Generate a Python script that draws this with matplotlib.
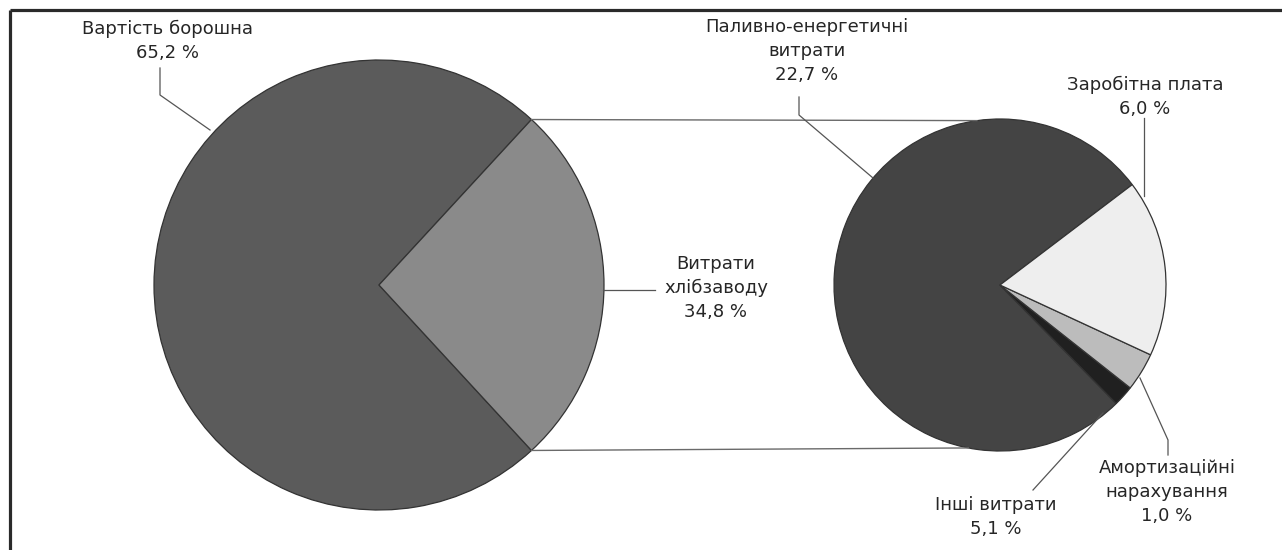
import numpy as np
import matplotlib.pyplot as plt

W, H = 1282, 550

# дані (частки так, як їх намальовано на діаграмі)
big_labels = ['Вартість борошна\n65,2 %', 'Витрати\nхлібзаводу\n34,8 %']
big_values = [73.7, 26.3]
big_colors = ['#5b5b5b', '#8a8a8a']

small_labels = ['Паливно-енергетичні\nвитрати\n22,7 %', 'Інші витрати\n5,1 %',
                'Амортизаційні\nнарахування\n1,0 %', 'Заробітна плата\n6,0 %']
small_values = [26.8, 0.7, 1.3, 6.0]
small_colors = ['#444444', '#202020', '#bcbcbc', '#eeeeee']


def Y(y):
    # координата y з картинки (зверху вниз) -> вісь (знизу вгору)
    return H - y


fig = plt.figure(figsize=(W / 100, H / 100), dpi=100)
ax = fig.add_axes([0, 0, 1, 1])

# велика діаграма
big_c = (379, Y(285))
big_r = 225
big_start = 360 * big_values[1] / sum(big_values) / 2
ax.pie(big_values, colors=big_colors, center=big_c, radius=big_r,
       startangle=big_start, counterclock=True,
       wedgeprops=dict(edgecolor='#333333', linewidth=0.9))

# мала діаграма
small_c = (1000, Y(285))
small_r = 166
small_start = 37.2
ax.pie(small_values, colors=small_colors, center=small_c, radius=small_r,
       startangle=small_start, counterclock=True,
       wedgeprops=dict(edgecolor='#333333', linewidth=0.9))

# з'єднувальні лінії
for a_big, a_small in [(big_start, 98), (-big_start, 259)]:
    x0 = big_c[0] + big_r * np.cos(np.radians(a_big))
    y0 = big_c[1] + big_r * np.sin(np.radians(a_big))
    x1 = small_c[0] + small_r * np.cos(np.radians(a_small))
    y1 = small_c[1] + small_r * np.sin(np.radians(a_small))
    ax.plot([x0, x1], [y0, y1], color='#6a6a6a', lw=1.0)

# виноски
leaders = [
    [(160, 68), (160, 95), (210, 130)],
    [(603, 290), (655, 290)],
    [(799, 97), (799, 115), (873, 178)],
    [(1033, 490), (1103, 413)],
    [(1140, 378), (1168, 440), (1168, 455)],
    [(1144, 118), (1144, 196)],
]
for pts in leaders:
    ax.plot([p[0] for p in pts], [Y(p[1]) for p in pts], color='#555555', lw=0.9)

txt = dict(ha='center', va='center', fontsize=13, color='#262626',
           family='DejaVu Sans', linespacing=1.45)
ax.text(167, Y(41), big_labels[0], **txt)
ax.text(716, Y(288), big_labels[1], **txt)
ax.text(807, Y(51), small_labels[0], **txt)
ax.text(996, Y(517), small_labels[1], **txt)
ax.text(1167, Y(492), small_labels[2], **txt)
ax.text(1145, Y(97), small_labels[3], **txt)

# рамка
ax.plot([10, W], [Y(10), Y(10)], color='#2a2a2a', lw=2.3, solid_capstyle='butt')
ax.plot([10, 10], [Y(10), 0], color='#2a2a2a', lw=2.3, solid_capstyle='butt')

ax.set_xlim(0, W)
ax.set_ylim(0, H)
ax.set_aspect('auto')
ax.axis('off')

plt.savefig('out.png', dpi=100)
